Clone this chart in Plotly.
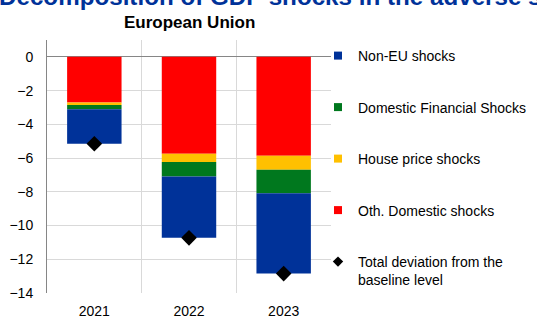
import plotly.graph_objects as go

years = ["2021", "2022", "2023"]
oth_domestic = [-2.70, -5.75, -5.87]
house_price = [-0.15, -0.48, -0.82]
dom_financial = [-0.25, -0.87, -1.39]
non_eu = [-2.05, -3.62, -4.77]
total_dev = [-5.15, -10.73, -12.85]

y_ticks = [0, -2, -4, -6, -8, -10, -12, -14]

c_blue = "#003299"
c_green = "#00781E"
c_yellow = "#FFC000"
c_red = "#FF0000"

FONT = "Liberation Sans, Arial, sans-serif"

fig = go.Figure()
# stacking order from zero downward: red, yellow, green, blue
for name, vals, col in [
    ("Oth. Domestic shocks", oth_domestic, c_red),
    ("House price shocks", house_price, c_yellow),
    ("Domestic Financial Shocks", dom_financial, c_green),
    ("Non-EU shocks", non_eu, c_blue),
]:
    fig.add_trace(go.Bar(x=years, y=vals, name=name, marker_color=col,
                         marker_line_width=0, width=0.575, showlegend=False))

fig.add_trace(go.Scatter(x=years, y=total_dev, mode="markers", showlegend=False,
                         marker=dict(symbol="diamond", size=12, color="black")))

# legend entries
legend_items = [
    ("Non-EU shocks", c_blue, "square"),
    ("Domestic Financial Shocks", c_green, "square"),
    ("House price shocks", c_yellow, "square"),
    ("Oth. Domestic shocks", c_red, "square"),
    ("Total deviation from the<br>baseline level", "black", "diamond"),
]
for i, (name, col, sym) in enumerate(legend_items):
    fig.add_trace(go.Scatter(x=[None], y=[None], mode="markers", name=name,
                             legendgroup=f"g{i}",
                             marker=dict(symbol=sym, size=8, color=col)))

PT, PB = 40, 293.3
PH = PB - PT
fig.update_layout(
    width=537, height=318,
    margin=dict(l=47, r=206, t=40, b=318 - PB, autoexpand=False),
    barmode="relative",
    plot_bgcolor="white", paper_bgcolor="white",
    font=dict(family=FONT, size=14, color="black"),
    showlegend=True,
    hovermode=False,
    legend=dict(x=(318 - 47) / 284, xanchor="left", y=1.0, yanchor="top",
                traceorder="grouped", tracegroupgap=30.3, valign="top",
                font=dict(size=14, family=FONT), bgcolor="rgba(0,0,0,0)"),
    xaxis=dict(type="category", tickson="boundaries", showgrid=True,
               gridcolor="#D9D9D9", gridwidth=1, ticks="", ticklabelstandoff=8,
               showline=False, zeroline=False),
    yaxis=dict(range=[-14, 1], tickvals=y_ticks, showgrid=True, gridcolor="#D9D9D9",
               zeroline=True, zerolinecolor="#868686", zerolinewidth=1,
               showline=True, linecolor="#868686", linewidth=1, ticks="",
               ticklabelstandoff=10),
    annotations=[
        dict(text="<b>Decomposition of GDP shocks in the adverse scenario</b>",
             xref="paper", yref="paper", x=(-3 - 47) / 284, y=(PB - 12) / PH,
             xanchor="left", yanchor="bottom", showarrow=False,
             font=dict(size=24.2, color="#003299", family=FONT)),
        dict(text="<b>European Union</b>", xref="paper", yref="paper",
             x=0.5, y=(PB - 22) / PH, xanchor="center", yanchor="middle",
             showarrow=False, font=dict(size=17, color="black", family=FONT)),
    ],
)

fig.write_html("out.html", config={"displayModeBar": False, "staticPlot": True},
               post_script="document.body.style.margin='0';document.body.style.overflow='hidden';")
